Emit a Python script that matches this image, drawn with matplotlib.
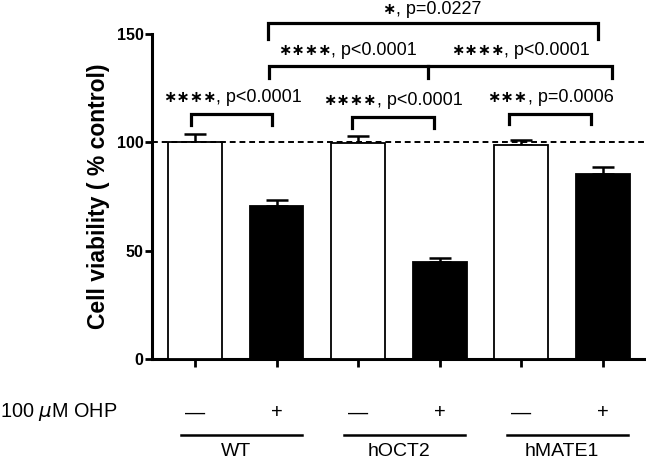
import matplotlib
matplotlib.use("Agg")
import matplotlib.pyplot as plt
import matplotlib.transforms as mtransforms
from matplotlib.offsetbox import TextArea, HPacker, AnnotationBbox

plt.rcParams['font.family'] = ['Liberation Sans', 'DejaVu Sans']

groups = ["WT", "hOCT2", "hMATE1"]
treatment_labels = ["\u2014", "+"]
treatment_name = "100 $\\mu$M OHP"
control_means = [100.0, 99.8, 98.9]
control_sem = [3.8, 3.0, 2.0]
ohp_means = [70.7, 44.9, 85.6]
ohp_sem = [2.7, 1.8, 2.8]
ylabel = "Cell viability ( % control)"
yticks = [0, 50, 100, 150]

pair_tests = [("\u2217\u2217\u2217\u2217", "p<0.0001"),
              ("\u2217\u2217\u2217\u2217", "p<0.0001"),
              ("\u2217\u2217\u2217", "p=0.0006")]
cross_tests = [("\u2217\u2217\u2217\u2217", "p<0.0001"),
               ("\u2217\u2217\u2217\u2217", "p<0.0001")]
top_test = ("\u2217", "p=0.0227")

fig = plt.figure(figsize=(6.46, 4.62), dpi=100)
W, H = 646, 462
ax = fig.add_axes([152 / W, (H - 359) / H, (646 - 152) / W, (359 - 34) / H])

means, sems, colors = [], [], []
for i in range(len(groups)):
    means += [control_means[i], ohp_means[i]]
    sems += [control_sem[i], ohp_sem[i]]
    colors += ["white", "black"]
xs = list(range(len(means)))

ax.bar(xs, means, width=0.66, color=colors, edgecolor="black", linewidth=1.3, zorder=3)
ax.errorbar(xs, means, yerr=[[0] * len(sems), sems], fmt="none", ecolor="black",
            elinewidth=1.8, capsize=8, capthick=1.8, zorder=2)

ax.axhline(100, color="black", linestyle=(0, (3, 2)), linewidth=1.4, zorder=4)

ax.set_xlim(-0.527, 5.53)
ax.set_ylim(0, 150)
ax.set_yticks(yticks)
ax.set_yticklabels([str(t) for t in yticks], fontweight="bold", fontsize=11.5)
ax.set_xticks(xs)
ax.set_xticklabels([])
ax.tick_params(axis="y", length=5, width=2, pad=1)
ax.tick_params(axis="x", length=6, width=2, direction="out")
for s in ["top", "right"]:
    ax.spines[s].set_visible(False)
for s in ["left", "bottom"]:
    ax.spines[s].set_linewidth(2.2)
ax.set_ylabel(ylabel, fontweight="bold", fontsize=16.5, labelpad=5)

blw = 2.3
def bracket(x1, x2, y, yb, mid=None):
    ax.plot([x1, x1, x2, x2], [yb, y, y, yb], color="black", lw=blw, clip_on=False,
            solid_joinstyle="miter", zorder=5)
    if mid is not None:
        ax.plot([mid, mid], [y, yb], color="black", lw=blw, clip_on=False, zorder=5)

def label(x, y, stars, ptxt):
    ta = TextArea(stars, textprops=dict(fontsize=11.5, fontweight="bold",
                                        family="DejaVu Sans"))
    tb = TextArea(", " + ptxt, textprops=dict(fontsize=13))
    box = HPacker(children=[ta, tb], align="baseline", pad=0, sep=0)
    ab = AnnotationBbox(box, (x, y), xycoords="data", frameon=False,
                        box_alignment=(0.5, 0.5), pad=0, annotation_clip=False)
    ax.add_artist(ab)

pair_geom = [(-0.05, 0.95, 113.3, 108.0, 0.46, 120.5),
             (1.93, 2.93, 111.9, 106.7, 2.43, 119.5),
             (3.85, 4.85, 113.3, 108.4, 4.36, 120.7)]
for (x1, x2, y, yb, tx, ty), (st, p) in zip(pair_geom, pair_tests):
    bracket(x1, x2, y, yb)
    label(tx, ty, st, p)

bracket(0.91, 5.11, 135.2, 129.5, mid=2.86)
label(1.87, 142.6, *cross_tests[0])
label(3.99, 142.6, *cross_tests[1])

bracket(0.9, 4.94, 155.2, 147.5)
label(2.9, 161.4, *top_test)

trans = mtransforms.blended_transform_factory(ax.transData, fig.transFigure)
fig.text(0.5 / W, 1 - 412 / H, treatment_name, ha="left", va="center", fontsize=14.3)
for i, x in enumerate(xs):
    ax.text(x, 1 - 413 / H, treatment_labels[i % 2], transform=trans, ha="center",
            va="center", fontsize=14.5, clip_on=False)
for g, name in enumerate(groups):
    x0 = 2 * g - 0.17
    x1 = 2 * g + 1.31
    ax.plot([x0, x1], [1 - 435 / H] * 2, transform=trans, color="black", lw=1.8,
            clip_on=False)
    ax.text(2 * g + 0.5, 1 - 452 / H, name, transform=trans, ha="center",
            va="center", fontsize=14, clip_on=False)

fig.savefig("out.png", dpi=100)
